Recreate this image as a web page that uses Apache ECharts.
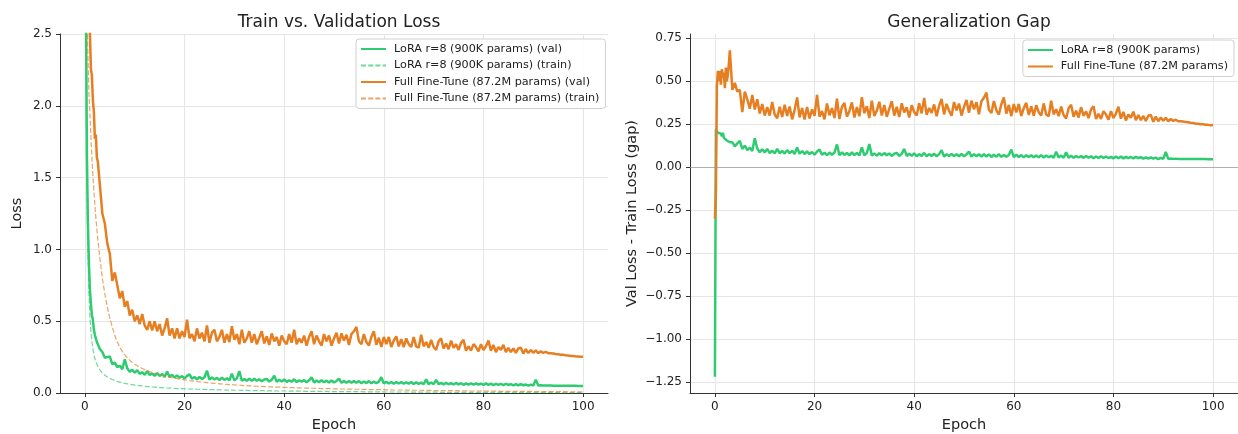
<!DOCTYPE html>
<html>
<head>
<meta charset="utf-8">
<title>LoRA vs Full Fine-Tune</title>
<script src="https://cdn.jsdelivr.net/npm/echarts@6/dist/echarts.min.js"></script>
<style>
  html, body { margin: 0; padding: 0; background: #fff; }
  #chart { width: 1238px; height: 434px; }
</style>
</head>
<body>
<div id="chart"></div>
<script>
// epochs: 0.2 steps up to epoch 3, then 0.5 steps to 100
const epochs = [];
for (let i = 0; i <= 15; i++) epochs.push(+(i * 0.2).toFixed(1));
for (let e = 3.5; e <= 100; e += 0.5) epochs.push(e);

const loraVal = [
  3.10, 2.75, 1.675, 1.18, 0.91, 0.72, 0.625, 0.54, 0.51, 0.44, 0.405, 0.393, 0.355, 0.345, 0.322, 0.306,
  0.285, 0.245, 0.250, 0.255, 0.200, 0.212, 0.180, 0.190, 0.165, 0.235,
  0.172, 0.148, 0.162, 0.141, 0.159, 0.133, 0.145, 0.127, 0.151, 0.125,
  0.136, 0.120, 0.138, 0.119, 0.132, 0.112, 0.149, 0.112, 0.127, 0.108,
  0.123, 0.106, 0.118, 0.101, 0.119, 0.130, 0.099, 0.111, 0.096, 0.111,
  0.097, 0.110, 0.156, 0.093, 0.109, 0.094, 0.105, 0.090, 0.107, 0.091,
  0.103, 0.088, 0.135, 0.088, 0.102, 0.153, 0.085, 0.098, 0.085, 0.099,
  0.085, 0.099, 0.085, 0.096, 0.081, 0.094, 0.098, 0.080, 0.092, 0.121,
  0.079, 0.092, 0.080, 0.094, 0.077, 0.089, 0.078, 0.096, 0.076, 0.089,
  0.078, 0.090, 0.075, 0.088, 0.110, 0.074, 0.086, 0.075, 0.088, 0.075,
  0.086, 0.073, 0.087, 0.073, 0.084, 0.100, 0.071, 0.084, 0.072, 0.084,
  0.071, 0.084, 0.071, 0.083, 0.068, 0.080, 0.069, 0.083, 0.068, 0.079,
  0.068, 0.079, 0.110, 0.066, 0.079, 0.066, 0.077, 0.064, 0.076, 0.066,
  0.076, 0.064, 0.075, 0.064, 0.076, 0.062, 0.074, 0.064, 0.072, 0.061,
  0.095, 0.062, 0.073, 0.061, 0.092, 0.061, 0.071, 0.060, 0.070, 0.061,
  0.069, 0.059, 0.070, 0.060, 0.068, 0.057, 0.067, 0.058, 0.068, 0.058,
  0.067, 0.058, 0.065, 0.056, 0.067, 0.057, 0.065, 0.055, 0.064, 0.056,
  0.063, 0.055, 0.064, 0.056, 0.062, 0.053, 0.061, 0.054, 0.061, 0.054,
  0.059, 0.051, 0.058, 0.052, 0.092, 0.052, 0.054, 0.052, 0.053, 0.052,
  0.052, 0.051, 0.051, 0.051, 0.051, 0.050, 0.050, 0.050, 0.050, 0.050,
  0.050, 0.049, 0.049, 0.049
];

const loraTrain = [
  4.32, 2.53, 1.45, 0.98, 0.70, 0.53, 0.43, 0.36, 0.31, 0.27, 0.24, 0.218, 0.200, 0.185, 0.172, 0.161,
  0.140, 0.124, 0.112, 0.102, 0.094, 0.087, 0.081, 0.076, 0.071, 0.067,
  0.064, 0.061, 0.058, 0.055, 0.053, 0.051, 0.049, 0.047, 0.045, 0.044,
  0.042, 0.041, 0.039, 0.038, 0.037, 0.036, 0.035, 0.034, 0.033, 0.032,
  0.031, 0.030, 0.030, 0.029, 0.028, 0.028, 0.027, 0.027, 0.026, 0.026,
  0.025, 0.025, 0.024, 0.024, 0.023, 0.023, 0.022, 0.022, 0.021, 0.021,
  0.020, 0.020, 0.020, 0.019, 0.019, 0.019, 0.018, 0.018, 0.018, 0.017,
  0.017, 0.017, 0.016, 0.016, 0.016, 0.016, 0.015, 0.015, 0.015, 0.015,
  0.014, 0.014, 0.014, 0.014, 0.014, 0.013, 0.013, 0.013, 0.013, 0.013,
  0.013, 0.012, 0.012, 0.012, 0.012, 0.012, 0.011, 0.011, 0.011, 0.011,
  0.011, 0.010, 0.010, 0.010, 0.010, 0.010, 0.010, 0.009, 0.009, 0.009,
  0.009, 0.009, 0.009, 0.009, 0.009, 0.008, 0.008, 0.008, 0.008, 0.008,
  0.008, 0.008, 0.008, 0.008, 0.007, 0.007, 0.007, 0.007, 0.007, 0.007,
  0.007, 0.007, 0.007, 0.007, 0.006, 0.006, 0.006, 0.006, 0.006, 0.006,
  0.006, 0.006, 0.006, 0.006, 0.006, 0.006, 0.005, 0.005, 0.005, 0.005,
  0.005, 0.005, 0.005, 0.005, 0.005, 0.005, 0.005, 0.005, 0.005, 0.005,
  0.005, 0.005, 0.005, 0.005, 0.005, 0.005, 0.004, 0.004, 0.004, 0.004,
  0.004, 0.004, 0.004, 0.004, 0.004, 0.004, 0.004, 0.004, 0.004, 0.004,
  0.004, 0.004, 0.004, 0.004, 0.004, 0.004, 0.004, 0.004, 0.004, 0.004,
  0.004, 0.004, 0.003, 0.003, 0.003, 0.003, 0.003, 0.003, 0.003, 0.003,
  0.003, 0.003, 0.003, 0.003
];

const fullVal = [
  3.10, 2.90, 3.17, 2.91, 2.60, 2.51, 2.26, 2.21, 2.04, 1.96, 1.77, 1.80, 1.64, 1.61, 1.60, 1.62,
  1.25, 1.18, 1.04, 0.97, 0.78, 0.84, 0.75, 0.66, 0.71, 0.60,
  0.64, 0.54, 0.58, 0.50, 0.54, 0.48, 0.55, 0.47, 0.44, 0.50,
  0.435, 0.50, 0.43, 0.48, 0.40, 0.45, 0.52, 0.40, 0.45, 0.38,
  0.45, 0.38, 0.43, 0.39, 0.51, 0.38, 0.41, 0.36, 0.45, 0.38,
  0.42, 0.36, 0.47, 0.35, 0.42, 0.44, 0.36, 0.39, 0.44, 0.35,
  0.41, 0.355, 0.465, 0.37, 0.41, 0.34, 0.44, 0.35, 0.38, 0.43,
  0.35, 0.41, 0.34, 0.385, 0.43, 0.345, 0.395, 0.335, 0.415, 0.36,
  0.39, 0.33, 0.40, 0.36, 0.34, 0.41, 0.35, 0.44, 0.34, 0.38,
  0.35, 0.40, 0.33, 0.39, 0.43, 0.34, 0.40, 0.36, 0.33, 0.41,
  0.36, 0.40, 0.33, 0.38, 0.42, 0.345, 0.415, 0.365, 0.405, 0.335,
  0.41, 0.43, 0.46, 0.36, 0.34, 0.41, 0.355, 0.33, 0.39, 0.43,
  0.335, 0.385, 0.32, 0.39, 0.34, 0.39, 0.32, 0.365, 0.395, 0.325,
  0.375, 0.32, 0.38, 0.34, 0.32, 0.39, 0.325, 0.315, 0.405, 0.325,
  0.355, 0.315, 0.37, 0.32, 0.30, 0.36, 0.38, 0.31, 0.345, 0.305,
  0.365, 0.315, 0.34, 0.30, 0.35, 0.37, 0.295, 0.325, 0.295, 0.34,
  0.32, 0.29, 0.34, 0.30, 0.325, 0.365, 0.295, 0.335, 0.285, 0.32,
  0.30, 0.335, 0.285, 0.315, 0.285, 0.31, 0.28, 0.31, 0.315, 0.275,
  0.305, 0.278, 0.30, 0.28, 0.297, 0.277, 0.29, 0.279, 0.286, 0.277,
  0.276, 0.275, 0.271, 0.270, 0.267, 0.266, 0.262, 0.261, 0.258, 0.257,
  0.255, 0.254, 0.252, 0.252
];

const fullTrain = [
  3.40, 3.05, 2.70, 2.35, 2.10, 1.95, 1.78, 1.64, 1.52, 1.41, 1.31, 1.22, 1.14, 1.07, 1.00, 0.94,
  0.80, 0.69, 0.60, 0.52, 0.46, 0.40, 0.355, 0.32, 0.29, 0.265,
  0.245, 0.228, 0.213, 0.200, 0.190, 0.180, 0.171, 0.163, 0.156, 0.149,
  0.143, 0.137, 0.132, 0.127, 0.122, 0.118, 0.114, 0.110, 0.106, 0.103,
  0.100, 0.097, 0.094, 0.091, 0.089, 0.086, 0.084, 0.082, 0.080, 0.078,
  0.076, 0.074, 0.072, 0.070, 0.069, 0.067, 0.066, 0.064, 0.063, 0.061,
  0.060, 0.059, 0.058, 0.056, 0.055, 0.054, 0.053, 0.052, 0.051, 0.050,
  0.049, 0.048, 0.047, 0.046, 0.046, 0.045, 0.044, 0.043, 0.043, 0.042,
  0.041, 0.041, 0.040, 0.039, 0.039, 0.038, 0.037, 0.037, 0.036, 0.036,
  0.035, 0.035, 0.034, 0.034, 0.033, 0.033, 0.032, 0.032, 0.031, 0.031,
  0.030, 0.030, 0.030, 0.029, 0.029, 0.028, 0.028, 0.028, 0.027, 0.027,
  0.027, 0.026, 0.026, 0.026, 0.025, 0.025, 0.025, 0.024, 0.024, 0.024,
  0.023, 0.023, 0.023, 0.023, 0.022, 0.022, 0.022, 0.021, 0.021, 0.021,
  0.021, 0.020, 0.020, 0.020, 0.020, 0.019, 0.019, 0.019, 0.019, 0.018,
  0.018, 0.018, 0.018, 0.017, 0.017, 0.017, 0.017, 0.017, 0.016, 0.016,
  0.016, 0.016, 0.016, 0.015, 0.015, 0.015, 0.015, 0.015, 0.014, 0.014,
  0.014, 0.014, 0.014, 0.014, 0.013, 0.013, 0.013, 0.013, 0.013, 0.013,
  0.012, 0.012, 0.012, 0.012, 0.012, 0.012, 0.011, 0.011, 0.011, 0.011,
  0.011, 0.011, 0.011, 0.010, 0.010, 0.010, 0.010, 0.010, 0.010, 0.010,
  0.009, 0.009, 0.009, 0.009, 0.009, 0.009, 0.009, 0.008, 0.008, 0.008,
  0.008, 0.008, 0.008, 0.007
];

const xTicks = [0, 20, 40, 60, 80, 100];
const gapTicks = [-1.25, -1.0, -0.75, -0.5, -0.25, 0, 0.25, 0.5, 0.75];

const LORA = 'LoRA r=8 (900K params)';
const FULL = 'Full Fine-Tune (87.2M params)';
const GREEN = '#2ecc71';
const ORANGE = '#e67e22';
const FONT = 'DejaVu Sans';

const pairs = ys => epochs.map((e, i) => [e, ys[i]]);
const gapPairs = (val, train) => epochs.map((e, i) => [e, +(val[i] - train[i]).toFixed(4)]);
const minus = v => (v < 0 ? '\u2212' : '') + Math.abs(v).toFixed(2);

function xAxis(gridIndex) {
  return {
    type: 'value', gridIndex, min: -5, max: 105,
    name: 'Epoch', nameLocation: 'middle', nameGap: 25,
    nameTextStyle: { fontSize: 14.5, color: '#222', fontFamily: FONT },
    axisLine: { show: true, onZero: false, lineStyle: { color: '#333', width: 1 } },
    axisTick: { show: true, length: 4, customValues: xTicks, lineStyle: { color: '#333' } },
    axisLabel: { customValues: xTicks, color: '#222', fontSize: 12, margin: 8, fontFamily: FONT },
    splitLine: { show: true, lineStyle: { color: '#e6e6e6', width: 1 } }
  };
}

function lineSeries(name, data, color, dashed, gridIndex) {
  return {
    name, type: 'line', xAxisIndex: gridIndex, yAxisIndex: gridIndex,
    data, symbol: 'none', showSymbol: false, animation: false,
    lineStyle: dashed
      ? { color, width: 1.2, type: [5, 2.2], opacity: 0.7 }
      : { color, width: 2.5 },
    itemStyle: { color }
  };
}

function legend(names, pos) {
  return Object.assign({
    data: names,
    orient: 'vertical',
    itemWidth: 25, itemHeight: 12, itemGap: 2.5,
    padding: [3, 6, 3, 4],
    backgroundColor: 'rgba(255,255,255,0.85)',
    borderColor: '#d0d0d0', borderWidth: 1, borderRadius: 3,
    itemStyle: { opacity: 0 },
    textStyle: { fontSize: 11.2, color: '#222', lineHeight: 14, padding: [0, 0, 0, 3], fontFamily: FONT }
  }, pos);
}

const chart = echarts.init(document.getElementById('chart'), null, { renderer: 'canvas' });

const gapLora = lineSeries(LORA, gapPairs(loraVal, loraTrain), GREEN, false, 1);
gapLora.markLine = {
  silent: true, symbol: 'none', label: { show: false },
  lineStyle: { color: '#999', width: 1.2, type: 'solid', opacity: 0.7 },
  data: [{ yAxis: 0 }]
};

chart.setOption({
  animation: false,
  textStyle: { fontFamily: FONT },
  title: [
    { text: 'Train vs. Validation Loss', left: 334, top: 9, textAlign: 'center',
      textStyle: { fontSize: 17, fontWeight: 'normal', color: '#222', fontFamily: FONT } },
    { text: 'Generalization Gap', left: 964, top: 9, textAlign: 'center',
      textStyle: { fontSize: 17, fontWeight: 'normal', color: '#222', fontFamily: FONT } }
  ],
  legend: [
    legend([LORA + ' (val)', LORA + ' (train)', FULL + ' (val)', FULL + ' (train)'], { left: 356, top: 39 }),
    legend([LORA, FULL], { right: 4, top: 40 })
  ],
  grid: [
    { left: 60, top: 34, width: 548, height: 359, outerBoundsMode: 'none' },
    { left: 690, top: 34, width: 548, height: 359, outerBoundsMode: 'none' }
  ],
  xAxis: [xAxis(0), xAxis(1)],
  yAxis: [
    {
      type: 'value', gridIndex: 0, min: 0, max: 2.5, interval: 0.5,
      name: 'Loss', nameLocation: 'middle', nameGap: 35,
      nameTextStyle: { fontSize: 14.5, color: '#222', fontFamily: FONT },
      axisLine: { show: true, onZero: false, lineStyle: { color: '#333', width: 1 } },
      axisTick: { show: true, length: 4, lineStyle: { color: '#333' } },
      axisLabel: { color: '#222', fontSize: 12, margin: 8, fontFamily: FONT,
                   formatter: v => v.toFixed(1) },
      splitLine: { show: true, lineStyle: { color: '#e6e6e6', width: 1 } }
    },
    {
      type: 'value', gridIndex: 1, min: -1.315, max: 0.775,
      name: 'Val Loss - Train Loss (gap)', nameLocation: 'middle', nameGap: 50,
      nameTextStyle: { fontSize: 14.5, color: '#222', fontFamily: FONT },
      axisLine: { show: true, onZero: false, lineStyle: { color: '#333', width: 1 } },
      axisTick: { show: true, length: 4, customValues: gapTicks, lineStyle: { color: '#333' } },
      axisLabel: { customValues: gapTicks, color: '#222', fontSize: 12, margin: 8, fontFamily: FONT,
                   formatter: minus },
      splitLine: { show: true, lineStyle: { color: '#e6e6e6', width: 1 } }
    }
  ],
  series: [
    lineSeries(LORA + ' (val)', pairs(loraVal), GREEN, false, 0),
    lineSeries(LORA + ' (train)', pairs(loraTrain), GREEN, true, 0),
    lineSeries(FULL + ' (val)', pairs(fullVal), ORANGE, false, 0),
    lineSeries(FULL + ' (train)', pairs(fullTrain), ORANGE, true, 0),
    gapLora,
    lineSeries(FULL, gapPairs(fullVal, fullTrain), ORANGE, false, 1)
  ]
});
</script>
</body>
</html>
